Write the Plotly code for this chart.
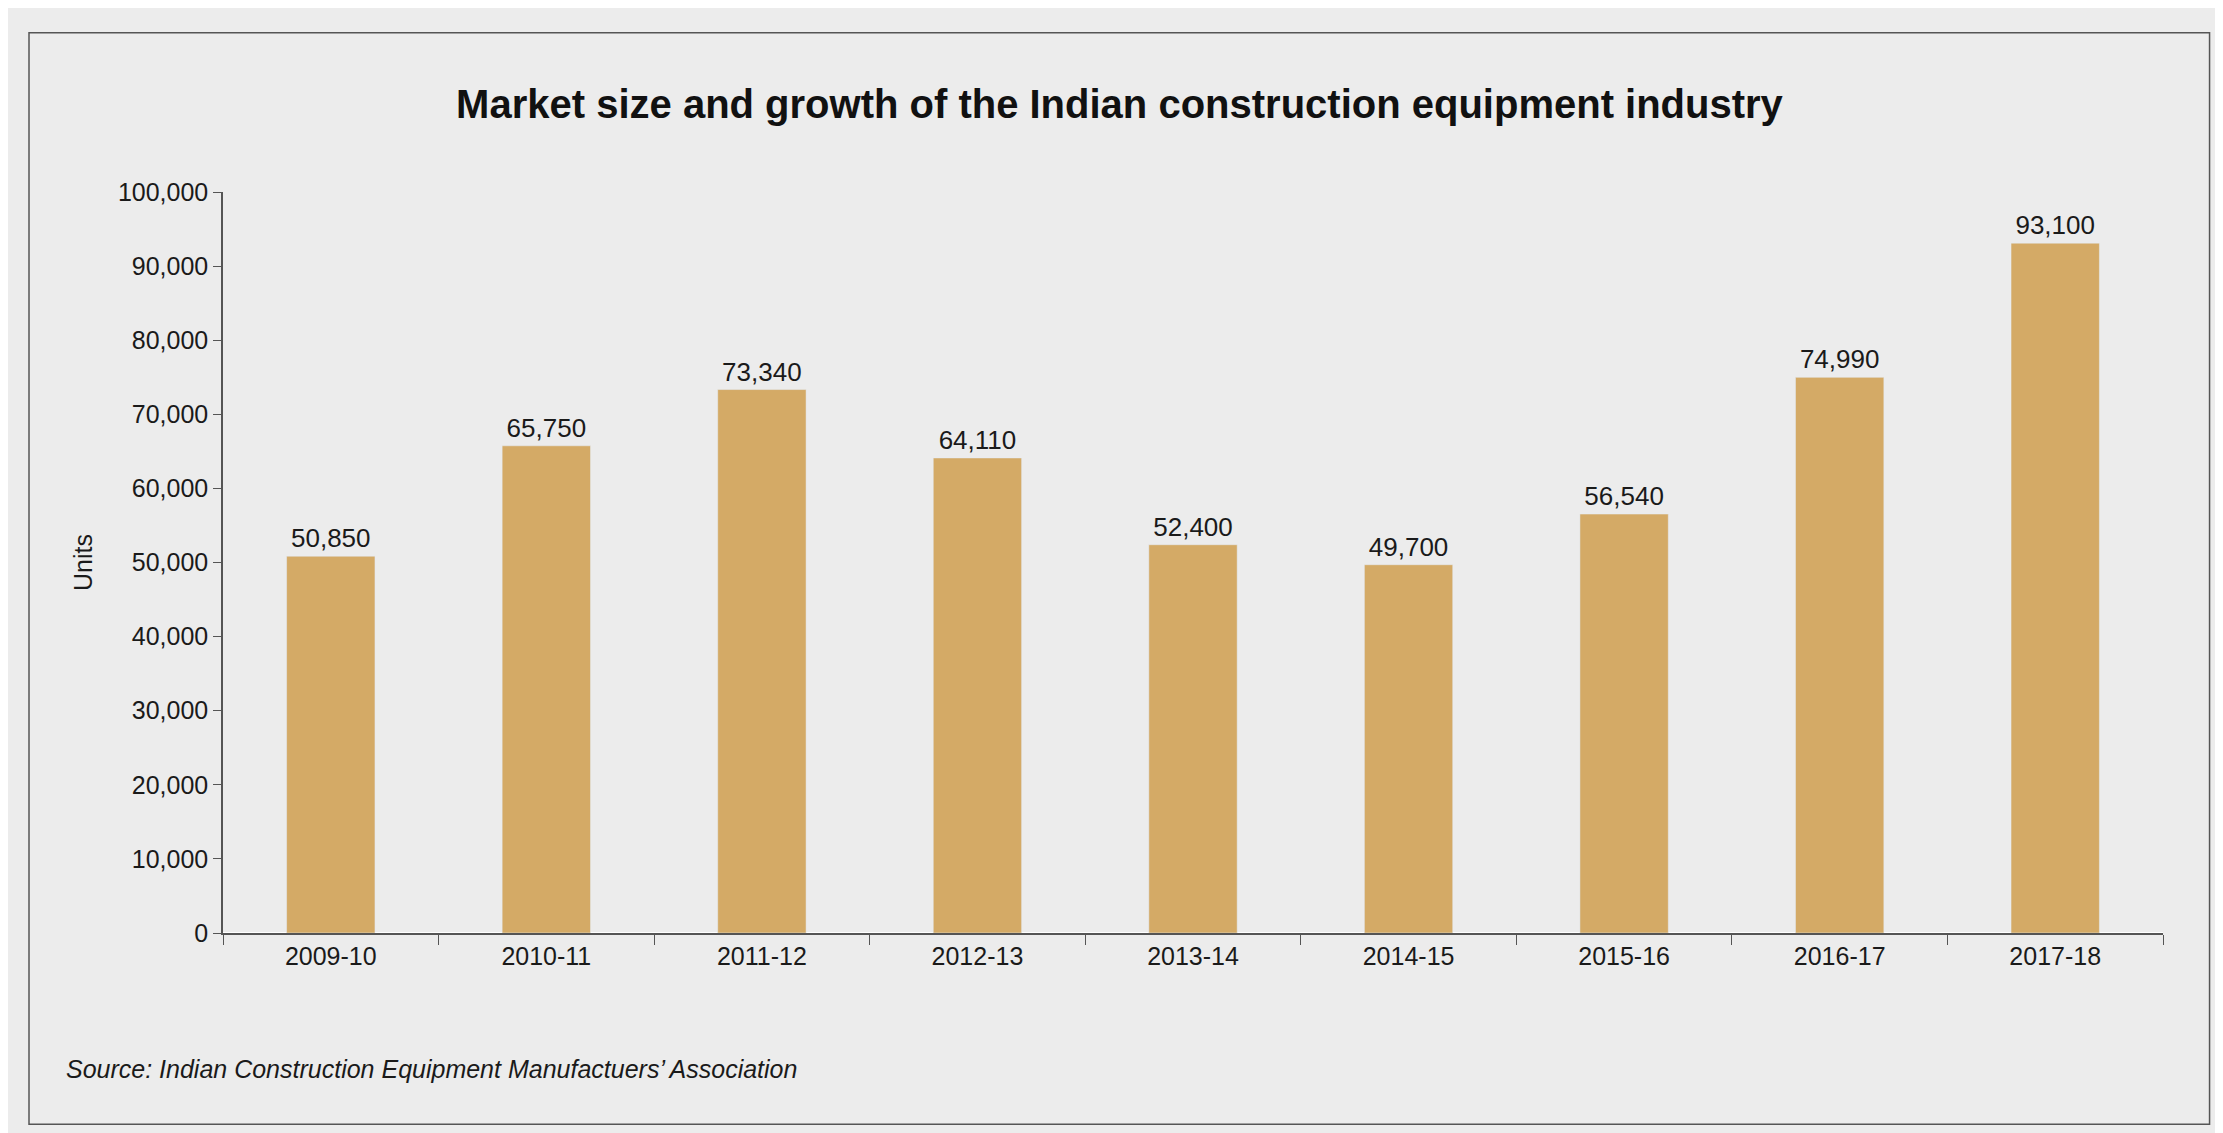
import plotly.graph_objects as go

years = ["2009-10", "2010-11", "2011-12", "2012-13", "2013-14", "2014-15", "2015-16", "2016-17", "2017-18"]
units = [50850, 65750, 73340, 64110, 52400, 49700, 56540, 74990, 93100]

font = "Liberation Sans Narrow, Arial Narrow, sans-serif"

fig = go.Figure(go.Bar(
    x=years, y=units, width=0.41,
    marker_color="#d4aa66",
    text=[f"{v:,}" for v in units], textposition="outside",
    textfont=dict(size=26, color="#1a1a1a", family=font),
    cliponaxis=False,
))

fig.update_layout(
    width=2223, height=1133,
    paper_bgcolor="#ececec", plot_bgcolor="#ececec",
    margin=dict(l=215, r=68, t=184, b=208),
    showlegend=False,
    title=dict(text="<b>Market size and growth of the Indian construction equipment industry</b>",
               x=0.5, xanchor="center", y=0.915, yanchor="middle",
               font=dict(family=font, size=40, color="#111")),
)
fig.update_yaxes(range=[0, 100000], dtick=10000, tickformat=",", showgrid=False,
                 showline=True, linecolor="#555", linewidth=1.5, ticks="outside", ticklen=8,
                 tickcolor="#555", tickfont=dict(family=font, size=25, color="#1a1a1a"),
                 title=dict(text="Units", font=dict(family=font, size=25, color="#1a1a1a"), standoff=18))
fig.update_xaxes(type="category", showline=True, linecolor="#555", linewidth=1.5, ticks="outside",
                 ticklen=10, tickcolor="#555", tickson="boundaries",
                 tickfont=dict(family=font, size=25, color="#1a1a1a"))

fig.add_shape(type="rect", xref="paper", yref="paper", x0=-0.1, x1=1.024, y0=-0.258, y1=1.215,
              line=dict(color="#555", width=1.5), fillcolor="rgba(0,0,0,0)")
fig.add_annotation(text="<i>Source: Indian Construction Equipment Manufactuers\u2019 Association</i>",
                   xref="paper", yref="paper", x=-0.082, y=-0.184, xanchor="left", yanchor="middle",
                   showarrow=False, font=dict(family=font, size=25, color="#1a1a1a"))

fig.write_html("out.html")
